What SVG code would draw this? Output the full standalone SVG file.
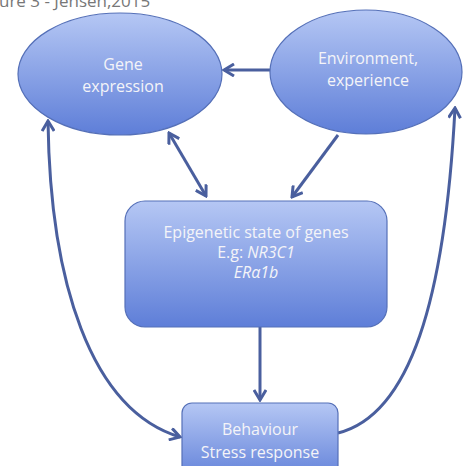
<svg xmlns="http://www.w3.org/2000/svg" width="473" height="466" viewBox="0 0 473 466">
<defs>
<linearGradient id="g" x1="0" y1="0" x2="0" y2="1">
<stop offset="0" stop-color="#b5c7f4"/>
<stop offset="1" stop-color="#5e7ed8"/>
</linearGradient>
<marker id="ah" viewBox="0 0 14 14" refX="12" refY="7" markerWidth="14" markerHeight="14" markerUnits="userSpaceOnUse" orient="auto-start-reverse">
<path d="M2,1 L12,7 L2,13" fill="none" stroke="#4a5f9e" stroke-width="3" stroke-linejoin="miter"/>
</marker>
<style>
.n{fill:url(#g);stroke:#5570b8;stroke-width:1.2}
.t{font-family:"Open Sans","Noto Sans",sans-serif;font-size:16px;fill:#f4f4f8;text-anchor:middle}
.c{fill:none;stroke:#4a5f9e;stroke-width:3}
</style>
</defs>
<rect width="473" height="466" fill="#ffffff"/>
<text x="-1" y="7" font-family="'Open Sans','Noto Sans',sans-serif" font-size="17" fill="#777">ure 3 - Jensen,2015</text>
<g id="connectors">
<path class="c" d="M270,70 L224,70" marker-end="url(#ah)"/>
<path class="c" d="M169,133 L206,196" marker-start="url(#ah)" marker-end="url(#ah)"/>
<path class="c" d="M338,135 L292,197" marker-end="url(#ah)"/>
<path class="c" d="M260,327 L260,400" marker-end="url(#ah)"/>
<path class="c" d="M338,433 C410,415 445,300 455,108" marker-end="url(#ah)"/>
<path class="c" d="M48,121 C50,280 90,410 180,437" marker-start="url(#ah)" marker-end="url(#ah)"/>
</g>
<g id="gene">
<ellipse class="n" cx="120" cy="74" rx="102" ry="61"/>
<text class="t" x="123" y="70">Gene</text>
<text class="t" x="123" y="92">expression</text>
</g>
<g id="environment">
<ellipse class="n" cx="366" cy="72" rx="96" ry="62"/>
<text class="t" x="368" y="64">Environment,</text>
<text class="t" x="368" y="86">experience</text>
</g>
<g id="epigenetic">
<rect class="n" x="125" y="201" width="262" height="126" rx="20"/>
<text class="t" x="256" y="238">Epigenetic state of genes</text>
<text class="t" x="256" y="258">E.g: <tspan font-style="italic">NR3C1</tspan></text>
<text class="t" x="256" y="278" font-style="italic">ERα1b</text>
</g>
<g id="behaviour">
<rect class="n" x="182" y="403" width="156" height="80" rx="10"/>
<text class="t" x="260" y="435">Behaviour</text>
<text class="t" x="260" y="458">Stress response</text>
</g>
</svg>
